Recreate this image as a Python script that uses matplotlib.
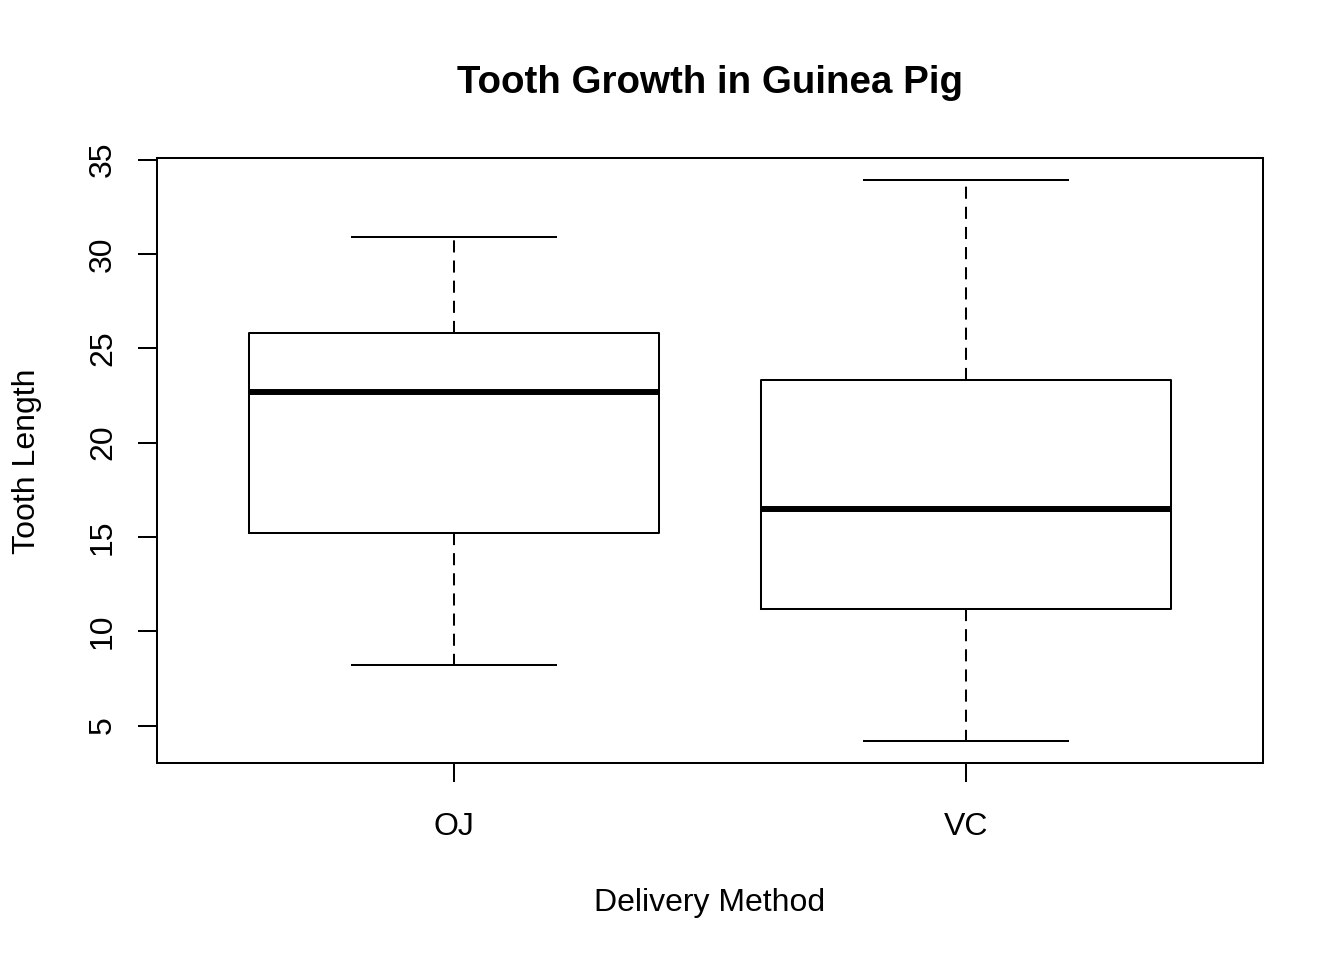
import matplotlib
matplotlib.use('Agg')
from matplotlib import pyplot as plt

plt.rcParams['font.family'] = ['Liberation Sans', 'DejaVu Sans']

# 箱线图数据（读图估计的五数概括）
groups = ['OJ', 'VC']
whislo = [8.2, 4.2]
q1 = [15.2, 11.2]
med = [22.7, 16.5]
q3 = [25.8, 23.3]
whishi = [30.9, 33.9]
yticks = [5, 10, 15, 20, 25, 30, 35]

stats = []
for i in range(len(groups)):
    stats.append(dict(label=groups[i], whislo=whislo[i], q1=q1[i], med=med[i],
                      q3=q3[i], whishi=whishi[i], fliers=[]))

W, H = 1344, 960
fig = plt.figure(figsize=(W/100, H/100), dpi=100)
ax = fig.add_axes([157/W, 1-763/H, 1106/W, 605/H])

lw = 1.45
ax.bxp(stats, positions=[1, 2], widths=0.8, showfliers=False,
       boxprops=dict(color='black', linewidth=lw),
       medianprops=dict(color='black', linewidth=4.3, solid_capstyle='butt'),
       whiskerprops=dict(color='black', linewidth=lw, linestyle=(0, (6, 4))),
       capprops=dict(color='black', linewidth=lw),
       capwidths=0.4)

ax.set_xlim(0.42, 2.58)
ax.set_ylim(3.012, 35.088)
ax.set_yticks(yticks)
ax.set_yticklabels([str(t) for t in yticks], rotation=90, va='center')
ax.set_xticks([1, 2])
ax.set_xticklabels(groups)
ax.tick_params(axis='both', length=14, width=lw, labelsize=23, color='black')
ax.tick_params(axis='y', pad=14)
ax.tick_params(axis='x', pad=21)
for s in ax.spines.values():
    s.set_linewidth(lw)

# 标题和坐标轴标签
fig.text(710/W, 1-83/H, 'Tooth Growth in Guinea Pig', fontsize=27.7, fontweight='bold',
         ha='center', va='center')
fig.text(710/W, 1-903/H, 'Delivery Method', fontsize=23, ha='center', va='center')
fig.text(27/W, 1-461/H, 'Tooth Length', fontsize=23, ha='center', va='center', rotation=90)

plt.savefig('out.png', dpi=100)
